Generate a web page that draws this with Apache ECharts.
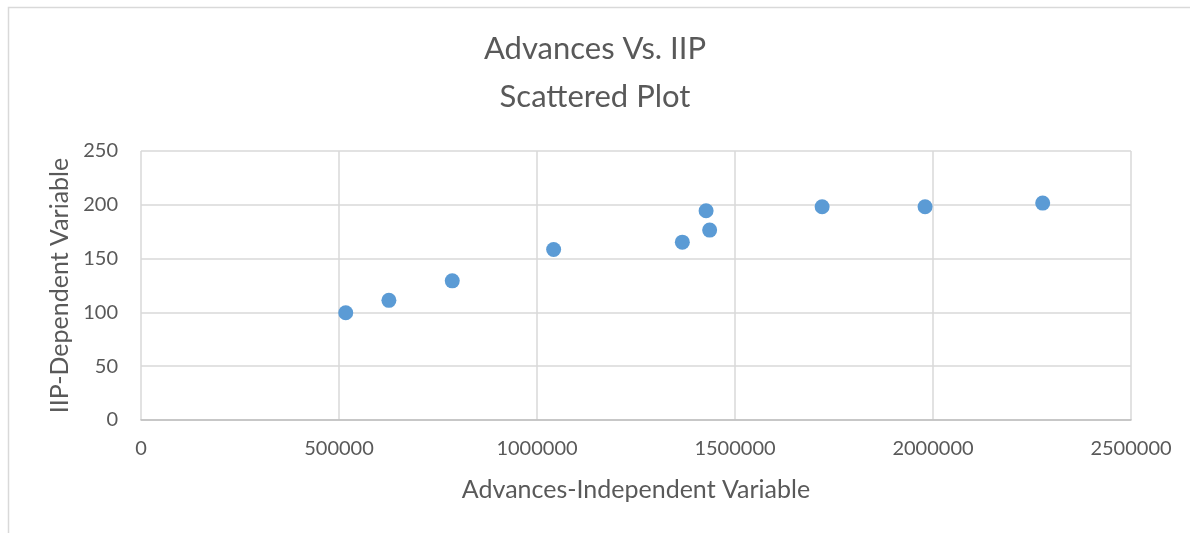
<!DOCTYPE html>
<html>
<head>
<meta charset="utf-8">
<script src="https://cdn.jsdelivr.net/npm/echarts@6/dist/echarts.min.js"></script>
<style>
html,body{margin:0;padding:0;background:#fff;}
#c{width:1190px;height:533px;}
</style>
</head>
<body>
<div id="c"></div>
<script>
const advances = [517000, 626000, 786000, 1042000, 1367000, 1427000, 1436000, 1720000, 1980000, 2277000];
const iip = [99.7, 111.2, 129.3, 158.4, 165.3, 194.5, 176.5, 198.2, 198.2, 201.6];
const titleLines = ['Advances Vs. IIP', 'Scattered Plot'];
const xName = 'Advances-Independent Variable';
const yName = 'IIP-Dependent Variable';

const points = advances.map((a, i) => [a, iip[i]]);
const FONT = 'Lato, "Open Sans", sans-serif';
const chart = echarts.init(document.getElementById('c'));
chart.setOption({
  animation: false,
  backgroundColor: '#fff',
  graphic: [{
    type: 'rect',
    shape: {x: 8.5, y: 7.5, width: 1300, height: 700},
    style: {fill: 'none', stroke: '#d9d9d9', lineWidth: 1.5},
    silent: true, z: -1
  }],
  title: {
    text: titleLines.join('\n'),
    left: 'center',
    top: 20,
    textStyle: {fontFamily: FONT, fontWeight: 400, fontSize: 31, color: '#595959', lineHeight: 48}
  },
  grid: {left: 141, right: 59, top: 151, bottom: 113, containLabel: false},
  xAxis: {
    type: 'value', min: 0, max: 2500000, interval: 500000,
    name: xName, nameLocation: 'middle', nameGap: 57,
    nameTextStyle: {fontFamily: FONT, fontSize: 25, color: '#595959'},
    axisLine: {show: true, lineStyle: {color: '#bfbfbf', width: 1.5}},
    axisTick: {show: false},
    axisLabel: {fontFamily: FONT, fontSize: 20, color: '#595959', margin: 19, formatter: v => String(v)},
    splitLine: {show: true, lineStyle: {color: '#d9d9d9', width: 1.5}}
  },
  yAxis: {
    type: 'value', min: 0, max: 250, interval: 50,
    name: yName, nameLocation: 'middle', nameGap: 66, nameRotate: 90,
    nameTextStyle: {fontFamily: FONT, fontSize: 25, color: '#595959'},
    axisLine: {show: false},
    axisTick: {show: false},
    axisLabel: {fontFamily: FONT, fontSize: 20, color: '#595959', margin: 23, formatter: v => String(v)},
    splitLine: {show: true, lineStyle: {color: '#d9d9d9', width: 1.5}}
  },
  series: [{
    type: 'scatter',
    data: points,
    symbol: 'circle',
    symbolSize: 15,
    itemStyle: {color: '#5b9bd5', opacity: 1}
  }]
});
</script>
</body>
</html>
